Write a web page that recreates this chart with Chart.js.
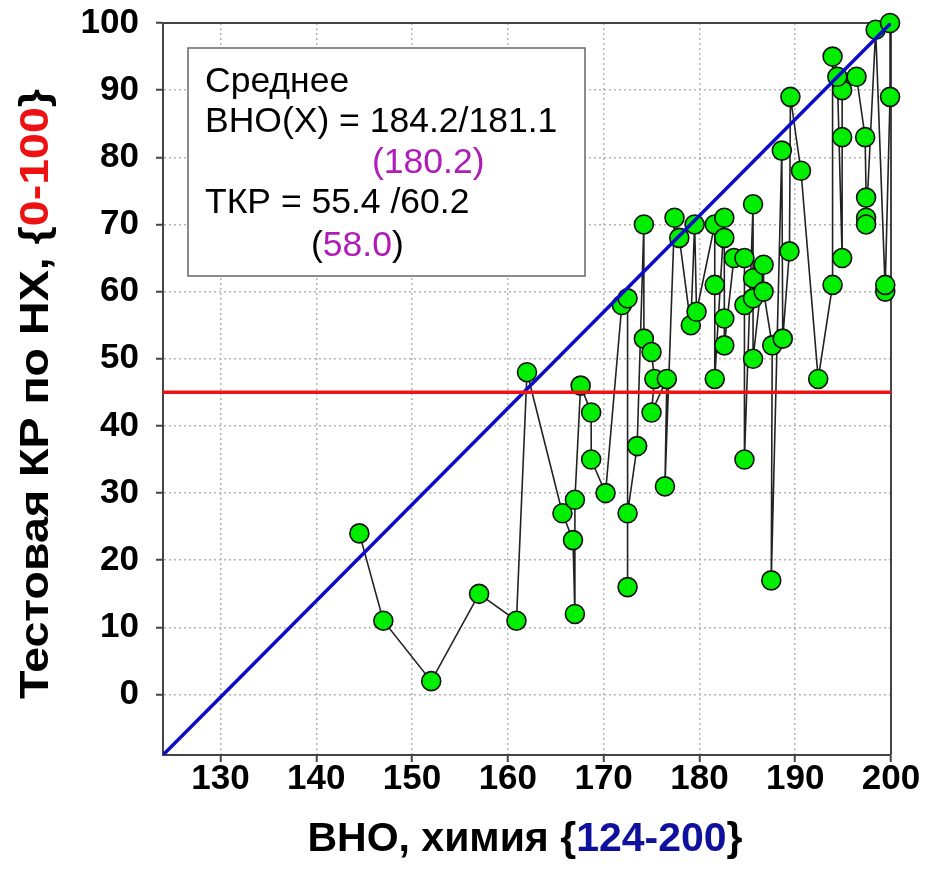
<!DOCTYPE html>
<html>
<head>
<meta charset="utf-8">
<script src="https://cdn.jsdelivr.net/npm/chart.js@4.4.0/dist/chart.umd.min.js"></script>
<style>
html, body { margin: 0; padding: 0; background: #fff; }
#wrap { width: 925px; height: 888px; position: relative; }
</style>
</head>
<body>
<div id="wrap"><canvas id="chart"></canvas></div>
<script>
// scores in the order they are joined on the plot
var vnoScores = [144.5, 147.0, 152.0, 157.0, 160.9, 162.0, 165.7, 166.8, 167.0, 167.0,
    167.6, 168.7, 168.7, 170.2, 171.9, 172.5, 172.5, 172.5, 173.5, 174.2,
    174.2, 175.0, 175.3, 175.0, 176.6, 176.4, 177.4, 177.9, 179.1, 179.5,
    179.7, 181.6, 181.6, 181.6, 182.6, 182.6, 182.6, 182.6, 183.6, 184.7,
    184.7, 184.7, 185.6, 185.6, 185.6, 185.6, 186.7, 186.7, 187.6, 187.5,
    188.6, 188.7, 189.4, 189.5, 190.6, 192.4, 193.9, 193.9, 194.9, 194.9,
    194.9, 194.4, 196.4, 197.3, 197.4, 197.4, 197.4, 198.4, 199.4, 199.4,
    199.9, 199.9];
var testScores = [24, 11, 2, 15, 11, 48, 27, 23, 12, 29,
    46, 42, 35, 30, 58, 59, 16, 27, 37, 70,
    53, 51, 47, 42, 47, 31, 71, 68, 55, 70,
    57, 70, 61, 47, 71, 68, 56, 52, 65, 65,
    58, 35, 73, 62, 59, 50, 64, 60, 52, 17,
    81, 53, 66, 89, 78, 47, 61, 95, 90, 83,
    65, 92, 92, 83, 74, 71, 70, 99, 60, 61,
    89, 100];

var passLevel = 45;
var xRange = [124, 200];
var yRange = [-9, 100];
var xTicks = [130, 140, 150, 160, 170, 180, 190, 200];
var yTicks = [0, 10, 20, 30, 40, 50, 60, 70, 80, 90, 100];

var boxLines = [
    [['Среднее', 'black']],
    [['ВНО(Х) = 184.2/181.1', 'black']],
    [['(180.2)', 'purple']],
    [['ТКР = 55.4 /60.2', 'black']],
    [['(', 'black'], ['58.0', 'purple'], [')', 'black']]
];
var xTitle = [['ВНО, химия {', 'black'], ['124-200', 'blue'], ['}', 'black']];
var yTitle = [['Тестовая КР по НХ, {', 'black'], ['0-100', 'red'], ['}', 'black']];

var FONT = '"Liberation Sans", Arial, sans-serif';
var inks = { black: '#000', purple: '#b01cb8', blue: '#10109e', red: '#ee1111' };

var points = vnoScores.map(function (v, i) { return { x: v, y: testScores[i] }; });

function runsWidth(ctx, runs) {
    var w = 0;
    runs.forEach(function (r) { w += ctx.measureText(r[0]).width; });
    return w;
}

function drawRuns(ctx, x, y, runs) {
    runs.forEach(function (r) {
        ctx.fillStyle = inks[r[1]];
        ctx.fillText(r[0], x, y);
        x += ctx.measureText(r[0]).width;
    });
}

var extras = {
    id: 'extras',
    beforeDatasetsDraw: function (chart) {
        var ctx = chart.ctx, a = chart.chartArea;
        ctx.save();
        // top and right sides of the frame
        ctx.strokeStyle = '#444';
        ctx.lineWidth = 2;
        ctx.beginPath();
        ctx.moveTo(a.left, a.top);
        ctx.lineTo(a.right, a.top);
        ctx.lineTo(a.right, a.bottom);
        ctx.stroke();

        // means box
        ctx.fillStyle = '#fff';
        ctx.fillRect(188, 48, 397, 228);
        ctx.strokeStyle = '#666';
        ctx.lineWidth = 1.5;
        ctx.strokeRect(188, 48, 397, 228);
        ctx.font = '35.5px ' + FONT;
        ctx.textBaseline = 'alphabetic';
        drawRuns(ctx, 205, 92, boxLines[0]);
        drawRuns(ctx, 205, 132, boxLines[1]);
        drawRuns(ctx, 372, 173, boxLines[2]);
        drawRuns(ctx, 205, 213, boxLines[3]);
        drawRuns(ctx, 311, 256, boxLines[4]);
        ctx.restore();
    },
    afterDraw: function (chart) {
        var ctx = chart.ctx;
        ctx.save();
        ctx.font = 'bold 41px ' + FONT;
        ctx.textBaseline = 'middle';
        var w = runsWidth(ctx, xTitle);
        drawRuns(ctx, 525 - w / 2, 840, xTitle);

        // y title is a bit stretched along its length in the original
        ctx.translate(37, 394);
        ctx.rotate(-Math.PI / 2);
        w = runsWidth(ctx, yTitle);
        ctx.scale(610 / w, 1);
        drawRuns(ctx, -w / 2, 0, yTitle);
        ctx.restore();
    }
};

new Chart(document.getElementById('chart'), {
    type: 'scatter',
    data: {
        datasets: [{
            data: [{ x: xRange[0], y: passLevel }, { x: xRange[1], y: passLevel }],
            showLine: true,
            borderColor: '#ee1414',
            borderWidth: 3.5,
            pointRadius: 0
        }, {
            data: [{ x: xRange[0], y: yRange[0] }, { x: xRange[1], y: yRange[1] }],
            showLine: true,
            borderColor: '#0c0cc8',
            borderWidth: 3.5,
            pointRadius: 0
        }, {
            data: points,
            showLine: true,
            borderColor: '#222',
            borderWidth: 1.6,
            pointRadius: 9.5,
            pointBackgroundColor: '#00ee00',
            pointBorderColor: '#111',
            pointBorderWidth: 1.6,
            clip: false
        }]
    },
    options: {
        responsive: true,
        maintainAspectRatio: false,
        animation: false,
        layout: { padding: { top: 23, right: 34, left: 0, bottom: 0 } },
        plugins: {
            legend: { display: false },
            tooltip: { enabled: false }
        },
        scales: {
            x: {
                type: 'linear',
                min: xRange[0],
                max: xRange[1],
                afterBuildTicks: function (s) { s.ticks = xTicks.map(function (v) { return { value: v }; }); },
                afterFit: function (s) { s.height = 133; s.paddingLeft = 0; s.paddingRight = 0; },
                ticks: {
                    font: { family: FONT, size: 35, weight: 'bold' },
                    color: '#000',
                    padding: -4,
                    maxRotation: 0,
                    autoSkip: false
                },
                grid: { color: '#b4b4b4', lineWidth: 1.5, tickColor: '#444', tickLength: 7, tickWidth: 2 },
                border: { color: '#444', width: 2, dash: [2, 3] }
            },
            y: {
                type: 'linear',
                min: yRange[0],
                max: yRange[1],
                afterBuildTicks: function (s) { s.ticks = yTicks.map(function (v) { return { value: v }; }); },
                afterFit: function (s) { s.width = 163; s.paddingTop = 0; s.paddingBottom = 0; },
                ticks: {
                    font: { family: FONT, size: 35, weight: 'bold' },
                    color: '#000',
                    padding: 17,
                    autoSkip: false
                },
                grid: { color: '#b4b4b4', lineWidth: 1.5, tickColor: '#444', tickLength: 7, tickWidth: 2 },
                border: { color: '#444', width: 2, dash: [2, 3] }
            }
        }
    },
    plugins: [extras]
});
</script>
</body>
</html>
